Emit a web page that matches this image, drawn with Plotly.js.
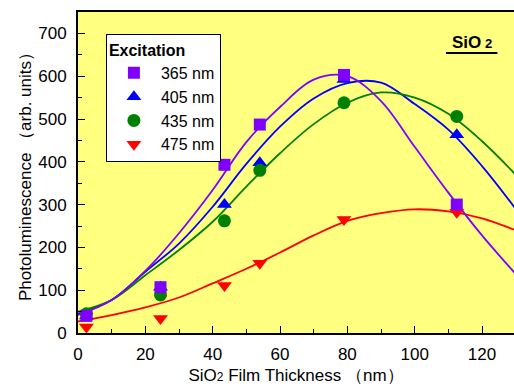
<!DOCTYPE html>
<html>
<head>
<meta charset="utf-8">
<script src="https://cdn.plot.ly/plotly-3.0.1.min.js"></script>
<style>
  html, body { margin: 0; padding: 0; background: #ffffff; }
  #chart { width: 514px; height: 388px; }
</style>
</head>
<body>
<div id="chart"></div>
<script>
// Measured points: SiO2 film thickness (nm) vs photoluminescence (arb. units)
const thickness = [2.5, 24.5, 43.5, 54, 79, 112.5];
const pl365 = [40, 107, 393, 487, 603, 300];
const pl405 = [40, 107, 300, 398, 592, 463];
const pl435 = [45, 89, 262, 380, 538, 506];
const pl475 = [14, 34, 111, 163, 265, 282];

// Fitted curves
const curveX = [0, 10, 20, 30, 40, 50, 60, 70, 80, 90, 100, 110, 120, 130];
const fit365 = [42, 77, 145, 233, 334, 446, 528, 592, 600, 542, 435, 328, 228, 138];
const fit405 = [45, 77, 143, 209, 295, 395, 482, 548, 584, 585, 535, 475, 390, 290];
const fit435 = [50, 77, 135, 194, 260, 342, 420, 488, 538, 562, 550, 512, 448, 370];
const fit475 = [27, 42, 60, 83, 116, 150, 188, 228, 262, 280, 289, 284, 268, 240];

const seriesNames = ['365 nm', '405 nm', '435 nm', '475 nm'];
const colors = ['#8000FF', '#0000FF', '#008000', '#FF0000'];
const symbols = ['square', 'triangle-up', 'circle', 'triangle-down'];
const points = [pl365, pl405, pl435, pl475];
const fits = [fit365, fit405, fit435, fit475];

const traces = [];
// curves first
[3, 1, 2, 0].forEach(i => {
  traces.push({
    x: curveX, y: fits[i], mode: 'lines', type: 'scatter',
    line: {color: colors[i], width: 1.8, shape: 'spline', smoothing: 1},
    showlegend: false, hoverinfo: 'skip'
  });
});
// markers: draw order red, blue, green, purple; legend order by legendrank
const drawOrder = [3, 1, 2, 0];
drawOrder.forEach(i => {
  traces.push({
    x: thickness, y: points[i], mode: 'markers', type: 'scatter',
    name: seriesNames[i], legendrank: i + 1,
    marker: {color: colors[i], symbol: symbols[i], size: i === 0 ? 12 : 13, line: {width: 0}}
  });
});

const FONT = 'Arial, "Liberation Sans", sans-serif';
const NB = '\u00a0';

const layout = {
  width: 514, height: 388,
  margin: {l: 78, r: 0, t: 12, b: 55},
  paper_bgcolor: '#ffffff',
  plot_bgcolor: '#FFFF80',
  font: {family: FONT, size: 16, color: '#000000'},
  showlegend: true,
  legend: {
    x: 0.064, y: 0.931, xanchor: 'left', yanchor: 'top',
    bgcolor: '#ffffff', bordercolor: '#000000', borderwidth: 1,
    font: {family: FONT, size: 16, color: '#000000'},
    title: {text: '<b>Excitation</b>', font: {family: FONT, size: 16, color: '#000000'}},
    itemwidth: 44, tracegroupgap: 0, traceorder: 'normal'
  },
  xaxis: {
    range: [0, 129.5], dtick: 20, tick0: 0,
    ticks: 'inside', ticklen: 7, tickwidth: 1, tickcolor: '#000000',
    minor: {dtick: 10, ticks: 'inside', ticklen: 4, tickcolor: '#000000'},
    showline: true, linecolor: '#000000', linewidth: 2, mirror: true,
    showgrid: false, zeroline: false,
    tickfont: {family: FONT, size: 17, color: '#000000'},
    ticklabelstandoff: 5,
    title: {text: 'SiO<span style="font-size:12px">2</span> Film Thickness （nm）',
            font: {family: FONT, size: 17, color: '#000000'}, standoff: 6}
  },
  yaxis: {
    range: [0, 750], dtick: 100, tick0: 0,
    ticks: 'inside', ticklen: 7, tickwidth: 1, tickcolor: '#000000',
    minor: {dtick: 50, ticks: 'inside', ticklen: 4, tickcolor: '#000000'},
    showline: true, linecolor: '#000000', linewidth: 2, mirror: true,
    showgrid: false, zeroline: false,
    tickfont: {family: FONT, size: 17, color: '#000000'},
    ticklabelstandoff: 6,
    title: {text: 'Photoluminescence （arb. units）' + NB + NB + NB + NB + NB,
            font: {family: FONT, size: 17, color: '#000000'}, standoff: 2}
  },
  annotations: [{
    xref: 'paper', yref: 'paper', x: 0.904, y: 0.905, xanchor: 'center', yanchor: 'middle',
    text: '<b>SiO<span style="font-size:13px"> 2</span></b>', showarrow: false,
    font: {family: FONT, size: 17, color: '#000000'}
  }],
  shapes: [{
    type: 'line', xref: 'paper', yref: 'paper',
    x0: 0.844, x1: 0.962, y0: 0.872, y1: 0.872,
    line: {color: '#000000', width: 2}
  }]
};

Plotly.newPlot('chart', traces, layout, {displayModeBar: false, staticPlot: true});
</script>
</body>
</html>
